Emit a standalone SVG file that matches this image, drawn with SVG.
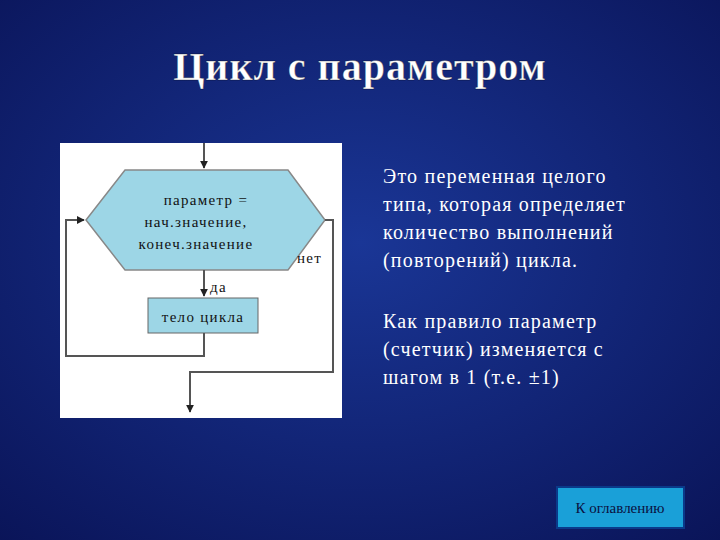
<svg xmlns="http://www.w3.org/2000/svg" width="720" height="540" viewBox="0 0 720 540">
<defs>
<radialGradient id="bg" cx="0.5" cy="0.45" r="0.75">
<stop offset="0" stop-color="#1a3696"/>
<stop offset="1" stop-color="#0a1458"/>
</radialGradient>
<marker id="ar" viewBox="0 0 10 10" refX="9" refY="5" markerWidth="8" markerHeight="8" markerUnits="userSpaceOnUse" orient="auto"><path d="M0,0 L10,5 L0,10 z" fill="#222"/></marker>
<style>
.t{font-family:"Liberation Serif",serif;fill:#fff}
.d{font-family:"Liberation Serif",serif;fill:#111;font-size:15px;letter-spacing:1.3px}
.c{fill:none;stroke:#555;stroke-width:2}
</style>
</defs>
<rect width="720" height="540" fill="url(#bg)"/>
<text class="t" x="360" y="80" font-size="40" font-weight="bold" text-anchor="middle" letter-spacing="1" stroke="#000" stroke-opacity="0.3" stroke-width="1">Цикл с параметром</text>
<rect x="60" y="143" width="282" height="275" fill="#fff"/>
<g id="hex"><polygon points="86,220 125,170 288,170 325,220 288,270 125,270" fill="#9dd6e6" stroke="#888" stroke-width="1.5"/>
<text class="d" x="206" y="205" text-anchor="middle">параметр =</text>
<text class="d" x="196" y="227" text-anchor="middle">нач.значение,</text>
<text class="d" x="196" y="249" text-anchor="middle">конеч.значение</text></g>
<g id="body"><rect x="148" y="298" width="110" height="35" fill="#9dd6e6" stroke="#666"/>
<text class="d" x="203" y="322" text-anchor="middle">тело цикла</text></g>
<g id="connectors">
<path class="c" d="M204,143 V168" marker-end="url(#ar)"/>
<path class="c" d="M204,270 V296" marker-end="url(#ar)"/>
<path class="c" d="M204,333 V356 H66 V220 H84" marker-end="url(#ar)"/>
<path class="c" d="M325,220 H333 V372 H190 V412" marker-end="url(#ar)"/>
</g>
<text class="d" x="210" y="292">да</text>
<text class="d" x="297" y="263">нет</text>
<g class="t" font-size="20" letter-spacing="1.2">
<text x="383" y="183">Это переменная целого</text>
<text x="383" y="211">типа, которая определяет</text>
<text x="383" y="239">количество выполнений</text>
<text x="383" y="267">(повторений) цикла.</text>
<text x="383" y="328">Как правило параметр</text>
<text x="383" y="356">(счетчик) изменяется с</text>
<text x="383" y="384">шагом в 1 (т.е. ±1)</text>
</g>
<g id="btn"><rect x="557" y="487" width="127" height="41" fill="#1aa0d8" stroke="#0a3a8a" stroke-width="2"/>
<text x="620" y="513" font-family="Liberation Serif,serif" font-size="15" fill="#0a1040" text-anchor="middle">К оглавлению</text></g>
</svg>
